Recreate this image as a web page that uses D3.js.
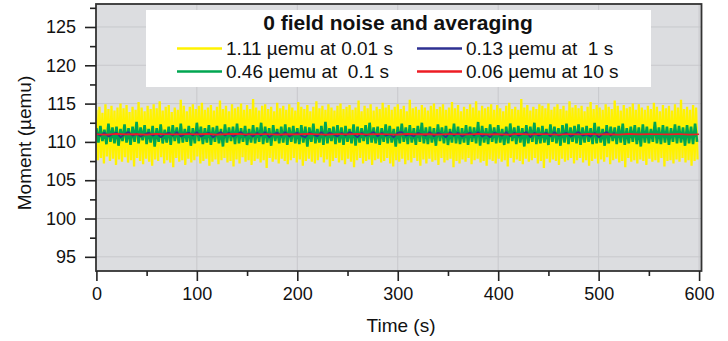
<!DOCTYPE html>
<html><head><meta charset="utf-8">
<script src="https://cdn.jsdelivr.net/npm/d3@7"></script>
<style>body{margin:0;background:#fff}svg{display:block}text{font-family:"Liberation Sans",Arial,sans-serif;fill:#111}</style>
</head><body><svg id="c" width="728" height="341"></svg>
<script>
const title = "0 field noise and averaging";
const xLabel = "Time (s)";
const yLabel = "Moment (\u00b5emu)";
const xTicks = [0,100,200,300,400,500,600];
const xMinor = [50,150,250,350,450,550];
const yTicks = [95,100,105,110,115,120,125];
const yMinor = [97.5,102.5,107.5,112.5,117.5,122.5,127.5];
const seriesNames = ["1.11 \u00b5emu at 0.01 s","0.46 \u00b5emu at  0.1 s","0.13 \u00b5emu at  1 s","0.06 \u00b5emu at 10 s"];
const seriesColors = ["#fff200","#00a651","#2e3192","#ed1c24"];
const seriesStep = [1.5, 2, 4, 10];
const yellowValues = [
114.2,107.6,114.6,107.9,113.8,107.2,114.9,108.1,114.3,107.5,114.7,107.8,114.1,107.0,114.5,107.7,115.0,107.4,114.4,108.0,
114.8,107.3,113.9,107.6,114.6,106.8,114.2,107.9,115.2,107.5,114.5,107.1,114.0,107.8,114.7,107.4,114.3,106.9,114.9,107.7,
114.4,107.5,115.3,108.0,114.1,107.2,114.6,107.6,114.8,107.3,113.9,106.7,114.5,107.9,114.2,107.4,115.5,107.6,114.7,107.0,
114.0,107.8,114.6,107.3,114.9,107.6,114.3,108.1,114.7,107.2,115.1,107.5,114.2,107.8,114.5,106.9,114.8,107.4,114.1,107.7,
114.6,107.1,115.4,107.6,114.3,107.9,114.7,107.3,114.0,107.5,114.9,106.8,114.4,107.7,114.6,107.2,115.0,108.0,114.2,107.4,
114.8,107.6,114.3,107.0,115.6,107.5,114.5,107.8,114.1,107.3,114.7,107.6,114.9,106.6,114.3,107.9,114.6,107.4,114.0,107.7,
115.1,107.2,114.4,107.8,114.7,107.5,114.2,107.1,114.9,107.6,114.5,107.9,114.1,107.3,115.2,107.7,114.6,106.9,114.3,107.5,
114.8,107.8,114.0,107.4,114.6,107.2,115.3,107.6,114.4,108.0,114.7,107.3,114.2,107.7,114.9,106.8,114.5,107.5,114.1,107.9,
114.7,107.3,115.0,107.6,114.3,107.1,114.6,107.8,114.8,107.4,114.2,106.7,114.5,107.6,115.4,107.9,114.0,107.2,114.7,107.5,
114.4,107.7,114.9,107.0,114.1,107.6,114.6,107.8,114.3,107.3,115.1,107.5,114.5,107.9,114.8,107.2,114.2,106.8,114.6,107.6,
114.9,107.4,114.3,107.8,114.7,107.1,114.0,107.6,115.5,107.3,114.4,107.9,114.6,107.5,114.2,106.9,114.8,107.7,114.5,107.2,
114.1,107.8,114.7,107.4,115.0,107.6,114.3,107.0,114.6,107.9,114.9,107.3,114.2,107.6,114.5,107.8,115.2,106.7,114.4,107.5,
114.8,107.2,114.0,107.7,114.6,107.4,114.3,107.9,114.9,107.1,114.5,107.6,115.3,107.8,114.1,107.3,114.7,107.5,114.4,106.9,
114.6,107.7,114.9,107.5,114.2,107.2,114.8,107.8,114.4,107.4,114.0,107.6,114.7,106.8,115.1,107.9,114.3,107.3,114.6,107.7,
114.2,107.5,115.6,107.1,114.5,107.8,114.8,107.4,114.1,107.6,114.6,107.9,114.3,107.2,114.9,107.5,114.7,106.6,114.4,107.8,
115.0,107.3,114.2,107.7,114.6,107.5,114.9,107.0,114.3,107.8,114.7,107.4,114.1,107.6,115.3,107.9,114.5,107.2,114.8,107.6,
114.4,107.9,114.7,107.3,114.0,107.6,114.6,106.9,115.2,107.5,114.3,107.8,114.8,107.2,114.5,107.7,114.2,107.4,114.9,108.0,
114.6,107.1,114.3,107.6,115.4,107.8,114.7,107.3,114.1,107.5,114.8,106.7,114.4,107.9,114.6,107.4,115.0,107.6,114.2,107.2,
114.9,107.7,114.5,107.5,114.2,107.0,114.7,107.8,114.3,107.4,115.1,107.6,114.6,107.3,114.0,107.9,114.8,106.8,114.4,107.5,
114.7,107.6,114.1,107.2,114.9,107.7,114.5,107.4,115.5,107.9,114.3,107.3,114.6,107.6,114.2,106.9,114.8,107.5,114.5,107.7];
const greenValues = [
111.8,109.9,112.1,110.1,111.6,109.7,112.4,110.0,111.9,109.8,112.0,109.5,111.7,110.1,112.3,109.9,111.8,109.6,112.0,110.0,
112.6,109.8,111.9,110.2,112.2,109.7,111.7,109.9,112.1,109.4,111.8,110.0,112.3,109.8,111.6,109.9,112.0,109.6,112.2,110.1,
111.9,109.8,112.4,109.9,111.7,110.0,112.1,109.5,111.8,109.8,112.5,110.1,112.0,109.7,111.8,109.9,112.2,109.6,111.9,110.0,
112.1,109.8,111.7,109.4,112.3,109.9,111.9,110.1,112.0,109.7,112.4,109.8,111.8,110.0,112.1,109.6,111.7,109.9,112.2,109.8,
111.9,110.0,112.5,109.7,112.0,109.9,111.8,109.5,112.2,110.1,111.7,109.8,112.0,109.9,112.3,109.6,111.9,110.0,112.1,109.8,
111.8,109.7,112.2,109.9,112.0,109.4,111.9,110.0,112.4,109.8,111.7,109.9,112.1,109.6,112.6,109.8,111.8,110.1,112.0,109.7,
112.2,109.9,111.9,109.6,112.1,110.0,111.7,109.8,112.3,109.5,112.0,109.9,111.8,110.1,112.2,109.7,112.5,109.9,111.9,109.8,
112.0,109.6,111.8,110.0,112.3,109.8,112.1,109.9,111.7,109.4,112.0,109.8,112.4,110.0,111.9,109.7,112.2,109.9,111.8,109.6,
112.1,110.0,112.5,109.8,111.9,109.7,112.0,109.9,111.8,109.5,112.3,110.1,111.9,109.8,112.1,109.6,111.7,109.9,112.4,109.8,
112.0,109.7,111.8,109.9,112.2,109.6,112.0,110.0,111.9,109.8,112.6,109.5,112.1,109.9,111.8,109.7,112.3,110.0,111.9,109.8,
112.2,109.9,111.7,109.6,112.0,109.8,112.4,110.1,111.9,109.7,112.1,109.9,111.8,109.4,112.2,109.8,112.0,110.0,112.5,109.7,
111.9,109.8,112.1,109.9,111.7,109.6,112.3,110.0,112.0,109.8,111.8,109.5,112.2,109.9,112.4,109.7,111.9,110.0,112.1,109.8,
112.3,109.6,111.9,109.9,112.1,110.0,111.8,109.7,112.5,109.8,112.0,109.9,111.7,109.5,112.2,109.8,112.0,110.1,111.9,109.7,
112.1,109.9,112.4,109.6,111.8,109.8,112.0,110.0,112.2,109.7,111.9,109.4,112.3,109.9,112.0,109.8,111.7,110.0,112.6,109.8,
111.9,109.7,112.2,109.9,112.0,109.6,111.8,110.0,112.3,109.8,112.1,109.9,111.9,109.5,112.2,109.8,112.0,109.7,112.4,110.0];
const blueValues = [
111.1,110.8,111.2,110.7,111.0,111.2,110.6,111.0,111.3,110.8,111.1,110.7,111.0,111.2,110.8,111.1,110.6,111.0,111.2,110.8,
111.3,110.7,111.0,111.2,110.8,111.3,110.7,111.0,111.2,110.6,111.0,111.3,110.8,111.2,110.7,111.0,111.3,110.8,111.1,110.7,
111.2,110.8,111.3,110.6,111.0,111.2,110.8,111.3,110.7,111.0,111.2,110.8,110.6,111.2,111.0,110.7,111.3,110.8,111.2,111.0,
110.7,111.2,110.8,111.3,111.0,110.6,111.2,110.8,111.0,111.3,110.7,111.2,110.8,111.0,110.6,111.2,111.3,110.8,111.0,110.7,
111.2,111.0,110.8,111.3,110.7,111.2,111.0,110.6,111.3,110.8,111.2,110.7,111.0,111.2,110.8,111.3,110.7,111.0,110.6,111.2,
111.0,110.8,111.3,110.7,111.2,110.8,111.0,111.3,110.6,111.2,110.8,111.0,111.2,110.7,111.3,110.8,111.0,111.2,110.7,111.0,
111.3,110.8,111.0,110.7,111.2,110.6,111.0,111.3,110.8,111.2];
const redValues = [
111.0,110.95,111.05,110.98,111.02,110.96,111.04,111.0,110.97,111.03,110.99,111.05,110.96,111.01,111.04,110.97,111.0,111.03,110.95,111.02,
110.98,111.04,111.0,110.96,111.03,110.99,111.05,110.97,111.01,111.0,110.96,111.04,110.98,111.02,110.95,111.03,111.0,110.97,111.05,110.99,
111.01,110.96,111.04,110.98,111.02,111.0,110.95,111.03,110.97,111.04,110.99,111.01,110.96,111.05,110.98,111.02,111.0,110.97,111.03,110.96,111.0];

const svg = d3.select("#c");
const x = d3.scaleLinear().domain([-0.4, 602.4]).range([96, 701.5]);
const y = d3.scaleLinear().domain([93.15, 128]).range([271, 4]);

svg.append("rect").attr("x",96).attr("y",4).attr("width",605.5).attr("height",267).attr("fill","#dcdde0");
const grid = svg.append("g").attr("stroke","#c8c9cc").attr("stroke-width",1);
grid.selectAll(".gx").data(xTicks.slice(1)).join("line").attr("x1",d=>x(d)).attr("x2",d=>x(d)).attr("y1",4).attr("y2",271);
grid.selectAll(".gy").data(yTicks).join("line").attr("y1",d=>y(d)).attr("y2",d=>y(d)).attr("x1",96).attr("x2",701.5);

const series = [yellowValues, greenValues, blueValues, redValues];
const widths = [2.3, 2.6, 1.5, 1.7];
svg.append("clipPath").attr("id","cp").append("rect").attr("x",96).attr("y",4).attr("width",605.5).attr("height",267);
const plot = svg.append("g").attr("clip-path","url(#cp)");
series.forEach((vals,i)=>{
  const line = d3.line().x((d,j)=>x(j*seriesStep[i])).y(d=>y(d));
  plot.append("path").datum(vals).attr("d",line).attr("fill","none")
    .attr("stroke",seriesColors[i]).attr("stroke-width",widths[i]).attr("stroke-linejoin","bevel");
});

svg.append("rect").attr("x",96).attr("y",4).attr("width",605.5).attr("height",267)
  .attr("fill","none").attr("stroke","#333").attr("stroke-width",1.8);

const fs = 18;
svg.append("g").attr("transform","translate(96,0)")
  .call(d3.axisLeft(y).tickValues(yTicks).tickSize(11).tickPadding(9));
svg.append("g").attr("transform","translate(96,0)")
  .call(d3.axisLeft(y).tickValues(yMinor).tickSize(6).tickFormat(""));
svg.append("g").attr("transform","translate(0,271)")
  .call(d3.axisBottom(x).tickValues(xTicks).tickSize(10).tickPadding(6));
svg.append("g").attr("transform","translate(0,271)")
  .call(d3.axisBottom(x).tickValues(xMinor).tickSize(5).tickFormat(""));
svg.selectAll(".domain").remove();
svg.selectAll(".tick line").attr("stroke","#222").attr("stroke-width",1.6);
svg.selectAll(".tick text").attr("font-size",fs).attr("font-family","Liberation Sans, Arial").attr("fill","#111");

svg.append("text").attr("x",401).attr("y",332).attr("text-anchor","middle").attr("font-size",19).text(xLabel);
svg.append("text").attr("transform","translate(31,143) rotate(-90)").attr("text-anchor","middle").attr("font-size",19).text(yLabel);

const lg = svg.append("g");
lg.append("rect").attr("x",146).attr("y",10).attr("width",505).attr("height",77).attr("fill","#fff");
lg.append("text").attr("x",398).attr("y",30).attr("text-anchor","middle").attr("font-size",21).attr("font-weight","bold").text(title);
const lx = [177,177,417,417], ly = [48.5,71.5,48.5,71.5];
seriesNames.forEach((n,i)=>{
  lg.append("line").attr("x1",lx[i]).attr("x2",lx[i]+45).attr("y1",ly[i]).attr("y2",ly[i])
    .attr("stroke",seriesColors[i]).attr("stroke-width",2.6);
  lg.append("text").attr("x",lx[i]+49).attr("y",ly[i]+6.5).attr("font-size",19)
    .style("white-space","pre").text(n);
});
</script></body></html>
